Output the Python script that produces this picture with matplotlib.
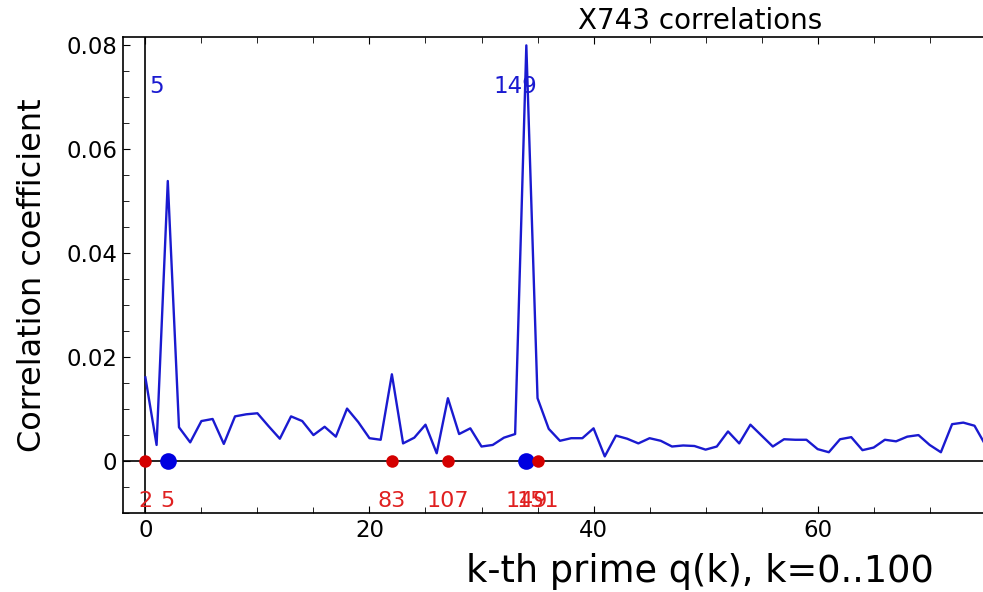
import matplotlib
matplotlib.use('Agg')
import matplotlib.pyplot as plt
from matplotlib.ticker import MultipleLocator, FuncFormatter

# correlation coefficient for k = 0..75
corr = [0.0161, 0.0031, 0.0539, 0.0065, 0.0036, 0.0077, 0.0081, 0.0033, 0.0086, 0.0090,
        0.0092, 0.0067, 0.0043, 0.0086, 0.0077, 0.0050, 0.0066, 0.0047, 0.0101, 0.0075,
        0.0044, 0.0041, 0.0167, 0.0034, 0.0045, 0.0070, 0.0015, 0.0121, 0.0052, 0.0063,
        0.0028, 0.0031, 0.0045, 0.0052, 0.0800, 0.0121, 0.0062, 0.0039, 0.0044, 0.0044,
        0.0063, 0.0009, 0.0049, 0.0043, 0.0034, 0.0044, 0.0039, 0.0028, 0.0030, 0.0029,
        0.0022, 0.0028, 0.0057, 0.0034, 0.0070, 0.0049, 0.0028, 0.0042, 0.0041, 0.0041,
        0.0023, 0.0017, 0.0042, 0.0046, 0.0021, 0.0026, 0.0041, 0.0038, 0.0047, 0.0050,
        0.0031, 0.0017, 0.0071, 0.0074, 0.0068, 0.0030]
kk = list(range(len(corr)))

# marked primes
red_k = [0, 22, 27, 35]
blue_k = [2, 34]
label_k = [0, 2, 22, 27, 34, 35]
label_q = ['2', '5', '83', '107', '149', '151']
peak_q = ['5', '149']

fig = plt.figure(figsize=(9.83, 5.92), dpi=100)
# axes run past the right edge of the picture (cropped original)
ax = fig.add_axes([0.1251, 0.1334, 1.174, 0.804])

ax.axhline(0, color='k', lw=1.2, zorder=1)
ax.axvline(0, color='k', lw=1.2, zorder=1)
ax.plot(kk, corr, color='#1a1ad0', lw=1.7, zorder=2)
ax.plot(blue_k, [0] * len(blue_k), 'o', color='#0000e0', ms=12, mec='none', zorder=3)
ax.plot(red_k, [0] * len(red_k), 'o', color='#d40000', ms=9, mec='none', zorder=4)

for k, q in zip(label_k, label_q):
	ax.text(k, -0.0077, q, color='#e02020', fontsize=16, ha='center', va='center')
for k, q in zip(blue_k, peak_q):
	ax.text(k - 1, 0.072, q, color='#1a1ad0', fontsize=16.5, ha='center', va='center')

ax.set_xlim(-2, 101)
ax.set_ylim(-0.01, 0.0816)
ax.xaxis.set_major_locator(MultipleLocator(20))
ax.xaxis.set_minor_locator(MultipleLocator(5))
ax.yaxis.set_major_locator(MultipleLocator(0.02))
ax.yaxis.set_minor_locator(MultipleLocator(0.005))
ax.yaxis.set_major_formatter(FuncFormatter(lambda v, p: '0' if abs(v) < 1e-12 else '%g' % v))
ax.tick_params(which='both', direction='in', top=True, right=True, labelsize=16.5, pad=4)
ax.tick_params(which='major', length=5)
ax.tick_params(which='minor', length=4)
for s in ax.spines.values():
	s.set_linewidth(1.2)

ax.set_title('X743 correlations', fontsize=20, pad=6)
ax.set_xlabel('k-th prime q(k), k=0..100', fontsize=26.5, labelpad=8)
ax.set_ylabel('Correlation coefficient', fontsize=23, labelpad=13)

fig.savefig('out.png', dpi=100)
